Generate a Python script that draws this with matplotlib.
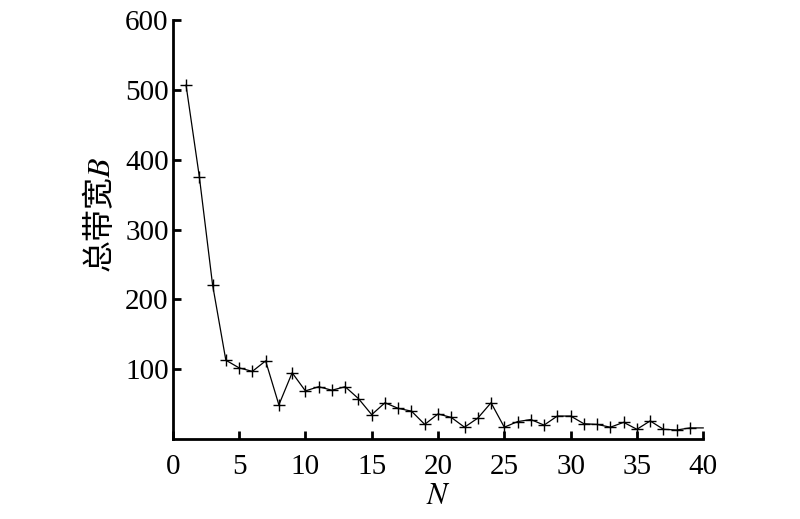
import matplotlib.pyplot as plt

plt.rcParams['font.family'] = ['Liberation Serif', 'Noto Sans CJK SC']
plt.rcParams['mathtext.fontset'] = 'stix'

n = list(range(1, 41))
bandwidth = [507, 376, 221, 113, 102, 97, 112, 49, 95, 69,
             75, 70, 75, 58, 35, 52, 44, 40, 21, 36,
             31, 17, 30, 52, 17, 25, 28, 20, 33, 33,
             22, 21, 17, 24, 14, 26, 14, 13, 16, 16]
x_ticks = [0, 5, 10, 15, 20, 25, 30, 35, 40]
y_ticks = [100, 200, 300, 400, 500, 600]

fig = plt.figure(figsize=(8, 5.19), dpi=100)
ax = fig.add_axes([0.216, 0.154, 0.663, 0.807])

ax.plot(n, bandwidth, color='black', lw=0.9, marker='+', markersize=9,
        markeredgewidth=1, markevery=list(range(len(n) - 1)), clip_on=False)

ax.set_xlim(0, 40)
ax.set_ylim(0, 600)
ax.set_xticks(x_ticks)
ax.set_yticks(y_ticks)
ax.tick_params(direction='in', length=6, width=2, labelsize=21)
ax.tick_params(axis='x', pad=11)
ax.tick_params(axis='y', pad=3)
for s in ['top', 'right']:
    ax.spines[s].set_visible(False)
for s in ['left', 'bottom']:
    ax.spines[s].set_linewidth(2)

ax.set_xlabel('$N$', fontsize=22, labelpad=1)
ax.set_ylabel('总带宽$B$', fontsize=23, labelpad=6,
              family=['Noto Sans CJK SC', 'DejaVu Sans'])
ax.yaxis.label.set_y(0.536)

fig.savefig('out.png', dpi=100)
